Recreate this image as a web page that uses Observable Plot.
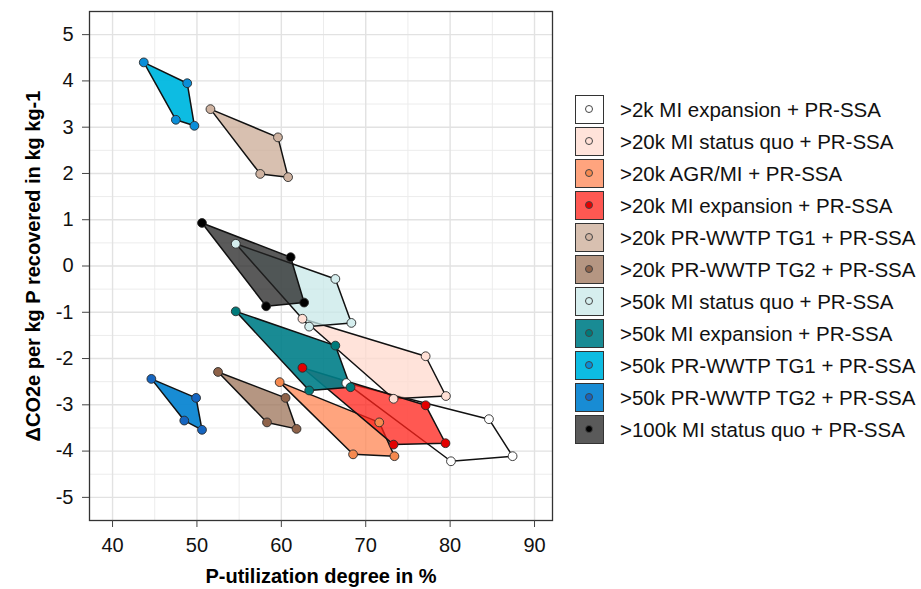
<!DOCTYPE html>
<html>
<head>
<meta charset="utf-8">
<script src="https://cdn.jsdelivr.net/npm/d3@7"></script>
<script src="https://cdn.jsdelivr.net/npm/@observablehq/plot@0.6"></script>
<style>
  html, body { margin: 0; padding: 0; background: #fff; }
  #wrap { position: relative; width: 921px; height: 589px; font-family: "Liberation Sans", Arial, sans-serif; }
  #chart { position: absolute; left: 0; top: 0; }
  #legend { position: absolute; left: 575px; top: 95px; }
  .row { position: relative; height: 32px; }
  .sw { position: absolute; left: 0; top: 0; width: 27px; height: 27px; border: 1.5px solid #333; background: #fff; }
  .sw .fl { position: absolute; inset: 0; }
  .sw .pt { position: absolute; left: 9px; top: 9px; width: 8px; height: 8px; border-radius: 50%; border: 1px solid #444; box-sizing: border-box; }
  .lab { position: absolute; left: 45px; top: 15px; transform: translateY(-50%); font-size: 20.5px; color: #111; white-space: nowrap; }
</style>
</head>
<body>
<div id="wrap"><div id="chart"></div><div id="legend"></div></div>
<script>
const series = [
  ">2k MI expansion + PR-SSA",
  ">20k MI status quo + PR-SSA",
  ">20k AGR/MI + PR-SSA",
  ">20k MI expansion + PR-SSA",
  ">20k PR-WWTP TG1 + PR-SSA",
  ">20k PR-WWTP TG2 + PR-SSA",
  ">50k MI status quo + PR-SSA",
  ">50k MI expansion + PR-SSA",
  ">50k PR-WWTP TG1 + PR-SSA",
  ">50k PR-WWTP TG2 + PR-SSA",
  ">100k MI status quo + PR-SSA"
];
// P-utilization degree (%) for the 4 corners of each scenario
const xValues = [
  [67.7, 84.6, 87.4, 80.1],
  [62.5, 77.1, 79.5, 73.3],
  [59.8, 71.6, 73.4, 68.5],
  [62.5, 77.1, 79.45, 73.3],
  [51.6, 59.6, 60.8, 57.5],
  [52.5, 60.5, 61.8, 58.3],
  [54.6, 66.4, 68.3, 63.3],
  [54.6, 66.4, 68.2, 63.3],
  [43.7, 48.85, 49.7, 47.5],
  [44.6, 49.9, 50.6, 48.5],
  [50.6, 61.1, 62.7, 58.2]
];
// ΔCO2e per kg P recovered
const yValues = [
  [-2.53, -3.31, -4.11, -4.22],
  [-1.14, -1.95, -2.81, -2.87],
  [-2.51, -3.38, -4.11, -4.07],
  [-2.20, -3.01, -3.83, -3.86],
  [3.39, 2.78, 1.92, 1.99],
  [-2.29, -2.85, -3.52, -3.38],
  [0.48, -0.28, -1.23, -1.31],
  [-0.98, -1.72, -2.62, -2.69],
  [4.40, 3.95, 3.03, 3.16],
  [-2.44, -2.85, -3.54, -3.34],
  [0.93, 0.19, -0.79, -0.87]
];
const fillColors = ["#ffffff", "#ffdace", "#ff8653", "#ff2018", "#cbab96", "#9c7358", "#c8e8e8", "#007e88", "#00b8e0", "#0c86d2", "#232323"];
const fillOpacities = [0.75, 0.75, 0.75, 0.75, 0.75, 0.75, 0.75, 0.9, 0.95, 0.95, 0.75];
const pointColors = ["#ffffff", "#ffe0d6", "#f5894f", "#e30000", "#cfb3a1", "#8e6249", "#d5eeee", "#007a7a", "#0a8ed8", "#1565c0", "#000000"];
const xTicks = [40, 50, 60, 70, 80, 90];
const xMinor = [45, 55, 65, 75, 85];
const yTicks = [-5, -4, -3, -2, -1, 0, 1, 2, 3, 4, 5];
const yMinor = [-4.5, -3.5, -2.5, -1.5, -0.5, 0.5, 1.5, 2.5, 3.5, 4.5];
const xTitle = "P-utilization degree in %";
const yTitle = "ΔCO2e per kg P recovered in kg kg-1";

const rows = series.flatMap((s, i) => xValues[i].map((x, j) => ({series: s, idx: i, x, y: yValues[i][j]})));

const polys = series.map((s, i) => Plot.line(rows.filter(d => d.idx === i), {
  x: "x", y: "y", curve: "linear-closed",
  fill: fillColors[i], fillOpacity: fillOpacities[i],
  stroke: "#111", strokeWidth: 1.5, strokeLinejoin: "round"
}));
const dots = series.map((s, i) => Plot.dot(rows.filter(d => d.idx === i), {
  x: "x", y: "y", r: 4.4, fill: pointColors[i], stroke: "#2a2a2a", strokeWidth: 0.9
}));

const chart = Plot.plot({
  width: 560, height: 589,
  marginLeft: 89, marginRight: 8, marginTop: 11, marginBottom: 69,
  x: {domain: [37.27, 92.13]},
  y: {domain: [-5.5, 5.5]},
  style: {fontFamily: "'Liberation Sans', Arial, sans-serif", fontSize: "20px", color: "#111", background: "#fff"},
  marks: [
    Plot.ruleX(xMinor, {stroke: "#ececec", strokeWidth: 1}),
    Plot.ruleY(yMinor, {stroke: "#ececec", strokeWidth: 1}),
    Plot.ruleX(xTicks, {stroke: "#e2e2e2", strokeWidth: 1.4}),
    Plot.ruleY(yTicks, {stroke: "#e2e2e2", strokeWidth: 1.4}),
    ...polys,
    ...dots,
    Plot.frame({stroke: "#333", strokeWidth: 1.3}),
    Plot.axisX({ticks: xTicks, tickSize: 7, tickPadding: 10, tickFormat: d => String(d), label: null, fontSize: 20, stroke: "#444"}),
    Plot.axisY({ticks: yTicks, tickSize: 7, tickPadding: 9, tickFormat: d => String(d), label: null, fontSize: 20, stroke: "#444"}),
    Plot.text([xTitle], {frameAnchor: "bottom", dy: 56, text: d => d, fontWeight: "bold", fontSize: 20, textAnchor: "middle", lineAnchor: "middle", fill: "#000"}),
    Plot.text([yTitle], {frameAnchor: "left", dx: -56, rotate: -90, text: d => d, fontWeight: "bold", fontSize: 20, textAnchor: "middle", lineAnchor: "middle", fill: "#000"})
  ]
});
document.getElementById("chart").appendChild(chart);

const legend = document.getElementById("legend");
series.forEach((s, i) => {
  const row = document.createElement("div");
  row.className = "row";
  row.innerHTML = `<div class="sw"><div class="fl" style="background:${fillColors[i]};opacity:${fillOpacities[i]}"></div><div class="pt" style="background:${pointColors[i]}"></div></div><div class="lab"></div>`;
  row.querySelector(".lab").textContent = s;
  legend.appendChild(row);
});
</script>
</body>
</html>
